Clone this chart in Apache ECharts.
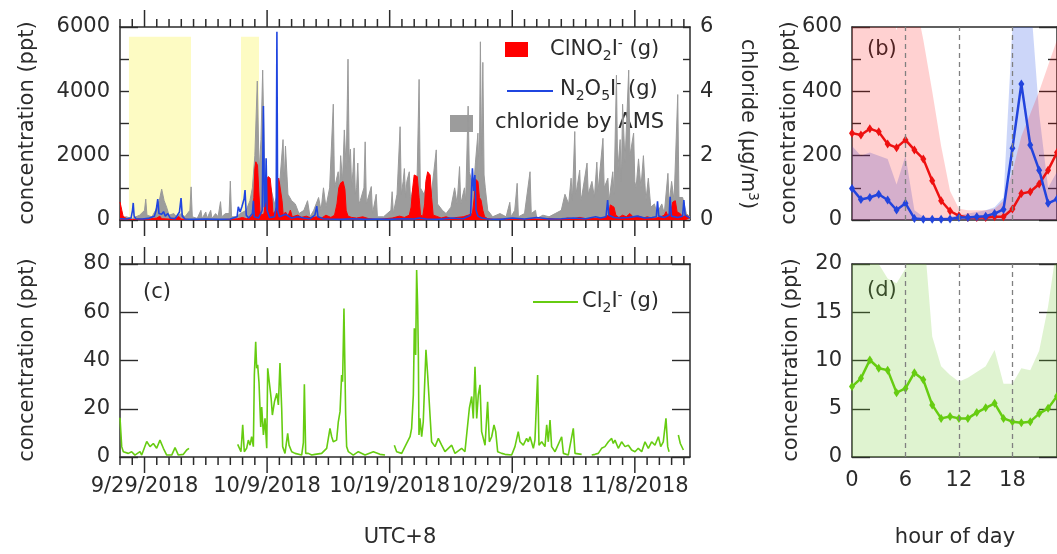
<!DOCTYPE html>
<html>
<head>
<meta charset="utf-8">
<script src="https://cdn.jsdelivr.net/npm/echarts@6/dist/echarts.min.js"></script>
<style>
  html, body { margin: 0; padding: 0; background: #ffffff; }
  #chart { width: 1057px; height: 554px; }
</style>
</head>
<body>
<div id="chart"></div>
<script>
// Time is counted in days after 2018-09-19 00:00 (UTC+8).
const dateTicks = [10, 20, 30, 40, 50];
const dateLabels = ['9/29/2018', '10/9/2018', '10/19/2018', '10/29/2018', '11/8/2018'];
const dayTicks = [8, 9, 10, 11, 12, 13, 14, 15, 16, 17, 18, 19, 20, 21, 22, 23, 24, 25, 26, 27, 28, 29, 30,
  31, 32, 33, 34, 35, 36, 37, 38, 39, 40, 41, 42, 43, 44, 45, 46, 47, 48, 49, 50, 51, 52, 53, 54];
const timeMin = 8, timeMax = 54.5;

// highlighted periods (start day, end day) and their top (ppt)
const shadedPeriods = [[8.73, 13.79], [17.87, 19.34]];
const shadeTop = 5700;

// particulate chloride by AMS, µg/m3
const chlorideAMS = [
  [8.0, 0.05], [8.5, 0.1], [9.0, 0.05], [9.6, 0.15], [10.0, 0.3], [10.1, 0.65], [10.2, 0.15], [10.6, 0.1],
  [10.9, 0.3], [11.2, 0.6], [11.4, 0.96], [11.6, 0.6], [11.8, 0.4], [12.0, 0.15], [12.4, 0.2], [12.6, 0.1],
  [13.0, 0.2], [13.3, 0.1], [13.7, 0.3], [13.8, 1.03], [13.9, 0.1], [14.3, 0.05], [14.6, 0.3], [14.7, 0.05],
  [15.0, 0.25], [15.1, 0.05], [15.4, 0.3], [15.5, 0.05], [15.8, 0.2], [16.0, 0.1], [16.2, 0.57], [16.3, 0.1],
  [16.6, 0.2], [16.9, 0.2], [17.0, 1.21], [17.1, 0.1], [17.5, 0.1], [17.8, 0.2], [18.3, 0.3], [18.6, 0.6],
  [18.8, 1.0], [19.0, 2.0], [19.2, 4.32], [19.35, 1.5], [19.5, 2.5], [19.64, 4.66], [19.8, 1.5], [20.0, 0.6],
  [20.3, 1.0], [20.6, 0.5], [21.0, 1.0], [21.3, 2.5], [21.4, 1.2], [21.5, 2.3], [21.7, 0.8], [22.0, 0.6],
  [22.3, 0.5], [22.6, 0.2], [23.0, 0.3], [23.3, 0.6], [23.5, 0.1], [23.8, 0.3], [24.2, 0.7], [24.4, 0.3],
  [24.6, 1.0], [24.8, 0.4], [25.1, 1.0], [25.4, 3.6], [25.5, 1.0], [25.8, 1.5], [25.9, 0.9], [26.0, 2.0],
  [26.15, 1.2], [26.3, 2.8], [26.45, 1.6], [26.6, 5.0], [26.7, 1.8], [26.8, 2.2], [26.9, 1.0], [27.0, 1.5],
  [27.1, 2.24], [27.2, 0.8], [27.3, 1.0], [27.4, 1.77], [27.5, 0.5], [27.6, 0.6], [27.9, 1.0],
  [28.0, 2.43], [28.1, 0.5], [28.5, 1.04], [28.6, 0.2], [28.9, 0.8], [29.0, 0.1], [29.5, 0.1], [30.1, 0.3],
  [30.2, 0.88], [30.3, 0.2], [30.6, 0.8], [30.85, 2.9], [30.95, 0.8], [31.1, 1.2], [31.2, 1.6], [31.3, 0.7],
  [31.4, 1.2], [31.6, 1.5], [31.7, 0.6], [31.8, 0.8], [32.1, 1.3], [32.2, 0.6], [32.4, 4.37], [32.5, 1.0],
  [32.8, 0.8], [33.1, 1.2], [33.4, 0.8], [33.8, 2.18], [33.9, 0.5], [34.3, 0.3], [34.6, 0.2], [35.0, 0.4],
  [35.3, 1.0], [35.5, 0.5], [35.7, 1.66], [35.8, 0.5], [36.1, 1.0], [36.2, 0.6], [36.4, 3.54], [36.5, 1.5],
  [36.7, 1.2], [36.8, 0.7], [37.0, 1.8], [37.2, 2.7], [37.3, 1.2], [37.4, 5.54], [37.5, 2.0], [37.6, 4.9],
  [37.7, 1.4], [37.8, 1.0], [38.0, 0.3], [38.4, 0.1], [39.0, 0.2], [39.5, 0.1], [39.8, 0.55], [39.9, 0.1],
  [40.2, 0.3], [40.4, 1.14], [40.5, 0.1], [41.0, 0.2], [41.45, 1.5], [41.55, 0.2], [41.9, 0.3], [42.0, 0.05],
  [42.5, 0.15], [43.0, 0.1], [43.5, 0.2], [44.0, 0.3], [44.3, 0.8], [44.6, 0.5], [44.8, 1.3], [44.9, 0.6],
  [45.1, 2.75], [45.2, 0.8], [45.5, 1.55], [45.6, 0.6], [45.7, 0.8], [46.1, 1.77], [46.2, 0.8], [46.5, 1.2],
  [46.7, 0.7], [46.9, 1.8], [47.0, 0.9], [47.4, 2.54], [47.5, 1.0], [47.8, 1.3], [47.9, 0.6], [48.2, 1.5],
  [48.3, 0.8], [48.5, 4.5], [48.6, 1.5], [48.8, 2.5], [48.9, 1.2], [49.0, 3.6], [49.2, 1.8], [49.5, 4.66],
  [49.6, 2.0], [49.9, 2.7], [50.0, 1.2], [50.1, 1.0], [50.3, 1.9], [50.5, 1.0], [50.7, 2.0], [50.9, 0.6],
  [51.1, 1.3], [51.3, 0.4], [51.6, 0.5], [51.8, 0.2], [52.2, 0.5], [52.4, 0.2], [52.7, 1.45], [52.8, 0.5],
  [53.0, 1.2], [53.2, 0.6], [53.5, 3.9], [53.6, 0.7], [53.9, 0.7], [54.2, 0.2], [54.5, 0.1]
];

// ClNO2 (ppt)
const clno2 = [
  [8.0, 560], [8.08, 520], [8.15, 300], [8.25, 120], [8.4, 60], [8.6, 20], [9.0, 10], [9.5, 30], [10.0, 20],
  [10.5, 40], [11.0, 60], [11.25, 120], [11.4, 40], [12.0, 30], [12.6, 60], [12.8, 110], [13.0, 30], [13.5, 20],
  [14.0, 10], [15.0, 10], [16.0, 15], [17.0, 20], [17.6, 40], [18.0, 80], [18.3, 40], [18.6, 60], [18.8, 150],
  [18.92, 700], [19.0, 1600], [19.08, 1810], [19.22, 1700], [19.32, 900], [19.42, 250], [19.55, 150],
  [19.75, 200], [19.88, 700], [19.98, 1250], [20.08, 1350], [20.25, 1300], [20.38, 800], [20.48, 200],
  [20.62, 150], [20.75, 300], [20.85, 1200], [20.95, 1300], [21.1, 1250], [21.22, 600], [21.32, 150],
  [21.5, 250], [21.7, 120], [21.9, 310], [22.05, 100], [22.5, 150], [22.8, 80], [23.2, 120], [23.6, 60],
  [24.0, 100], [24.4, 50], [24.8, 150], [25.2, 80], [25.5, 150], [25.7, 500], [25.85, 1000], [26.0, 1150],
  [26.2, 1200], [26.35, 950], [26.45, 300], [26.6, 120], [26.9, 80], [27.3, 60], [27.8, 100], [28.3, 40],
  [29.0, 20], [29.6, 40], [30.2, 60], [30.8, 120], [31.2, 80], [31.6, 150], [31.75, 400], [31.88, 1000],
  [32.0, 1400], [32.25, 1350], [32.4, 700], [32.52, 150], [32.7, 120], [32.85, 500], [32.95, 1200],
  [33.1, 1500], [33.3, 1400], [33.42, 700], [33.55, 150], [33.8, 120], [34.2, 60], [34.6, 100], [35.0, 50],
  [35.5, 80], [36.0, 100], [36.4, 150], [36.75, 200], [36.9, 700], [37.0, 1270], [37.2, 1200], [37.32, 700],
  [37.45, 620], [37.6, 300], [37.75, 100], [38.0, 40], [38.5, 20], [39.0, 30], [39.5, 10], [40.0, 20],
  [40.5, 30], [41.0, 20], [41.5, 40], [42.0, 30], [42.5, 20], [43.0, 50], [43.5, 30], [44.0, 20], [44.5, 60],
  [45.0, 40], [45.5, 80], [46.0, 40], [46.5, 60], [47.0, 50], [47.5, 80], [47.85, 150], [48.0, 470],
  [48.15, 520], [48.3, 400], [48.45, 150], [48.7, 80], [49.0, 150], [49.3, 100], [49.6, 200], [49.9, 80],
  [50.3, 120], [50.7, 60], [51.0, 100], [51.5, 50], [52.0, 80], [52.4, 150], [52.55, 260], [52.7, 120],
  [52.95, 300], [53.1, 560], [53.3, 600], [53.45, 250], [53.7, 200], [53.9, 100], [54.2, 150], [54.5, 60]
];

// N2O5 (ppt)
const n2o5 = [
  [8.0, 40], [8.5, 30], [8.9, 60], [9.02, 300], [9.08, 530], [9.15, 120], [9.3, 40], [9.8, 30], [10.3, 50],
  [10.8, 120], [10.95, 300], [11.08, 650], [11.18, 200], [11.4, 180], [11.55, 260], [11.7, 120], [11.9, 200],
  [12.1, 60], [12.5, 40], [12.85, 250], [12.98, 680], [13.08, 120], [13.3, 30], [14.0, 20], [15.0, 30],
  [16.0, 20], [17.0, 30], [17.55, 100], [17.65, 410], [17.8, 250], [17.95, 420], [18.12, 650], [18.2, 930],
  [18.3, 150], [18.5, 60], [18.8, 200], [18.88, 600], [18.95, 100], [19.3, 60], [19.6, 300], [19.7, 3540],
  [19.78, 400], [19.86, 600], [19.92, 1920], [20.0, 300], [20.2, 80], [20.6, 100], [20.74, 400], [20.8, 5850],
  [20.86, 300], [21.0, 100], [21.5, 180], [22.0, 60], [22.5, 100], [23.0, 60], [23.5, 40], [23.9, 150],
  [24.05, 430], [24.15, 100], [24.6, 40], [25.0, 30], [26.0, 20], [27.0, 40], [28.0, 20], [29.0, 30],
  [30.0, 20], [31.0, 40], [32.0, 30], [32.4, 60], [33.0, 30], [34.0, 20], [35.0, 60], [36.0, 40], [36.6, 150],
  [36.75, 1610], [36.85, 900], [36.95, 1400], [37.05, 300], [37.2, 120], [37.5, 60], [38.0, 30], [39.0, 20],
  [40.0, 60], [41.0, 30], [42.0, 80], [43.0, 30], [44.0, 40], [45.0, 60], [46.0, 40], [46.8, 100], [47.2, 60],
  [47.65, 100], [47.78, 620], [47.88, 150], [48.3, 80], [48.8, 60], [49.5, 80], [50.2, 120], [50.8, 60],
  [51.4, 80], [51.75, 100], [51.85, 580], [51.95, 120], [52.4, 80], [52.8, 150], [52.88, 720], [52.98, 120],
  [53.5, 80], [53.9, 120], [54.0, 620], [54.1, 150], [54.5, 60]
];

// Cl2 (ppt); null marks missing data
const cl2 = [
  [8.0, 16.3], [8.14, 4.3], [8.27, 2.2], [8.68, 1.5], [8.95, 2.2], [9.22, 0.8], [9.63, 2.2], [9.77, 0.8],
  [10.18, 6.4], [10.45, 4.3], [10.72, 5.6], [10.99, 3.6], [11.26, 7.0], [11.54, 3.6], [11.81, 0.8],
  [12.22, 0.8], [12.49, 3.9], [12.76, 0.8], [13.17, 1.1], [13.44, 2.9], [13.63, 3.6], [15.5, null],
  [17.6, 5.2], [17.87, 2.2], [18.01, 13.3], [18.14, 2.2], [18.33, 3.6], [18.47, 7.0], [18.61, 4.9],
  [18.74, 8.4], [18.88, 4.3], [18.96, 34.0], [19.07, 47.8], [19.15, 36.8], [19.23, 38.2], [19.34, 30.8],
  [19.48, 12.4], [19.56, 20.7], [19.7, 9.1], [19.83, 16.0], [19.97, 3.6], [20.05, 36.8], [20.19, 36.1],
  [20.33, 24.3], [20.43, 17.4], [20.6, 22.9], [20.79, 26.4], [20.92, 21.6], [21.05, 38.9], [21.19, 20.2],
  [21.27, 4.3], [21.46, 1.5], [21.68, 9.8], [21.79, 4.9], [22.01, 2.2], [22.28, 1.5], [22.82, 0.8],
  [22.96, 6.0], [23.04, 30.1], [23.15, 1.5], [23.36, 1.5], [23.64, 0.8], [23.91, 1.1], [24.45, 1.5],
  [24.86, 3.6], [25.13, 11.9], [25.27, 8.4], [25.4, 6.3], [25.67, 7.0], [25.81, 14.6], [25.95, 18.8],
  [26.08, 34.0], [26.16, 31.2], [26.27, 61.6], [26.41, 17.4], [26.49, 4.3], [26.63, 2.2], [27.03, 0.8],
  [27.44, 2.2], [27.99, 0.8], [28.67, 2.2], [29.21, 1.1], [29.62, 0.8], [30.0, null], [30.38, 4.9],
  [30.57, 2.2], [30.98, 1.5], [31.25, 4.3], [31.66, 8.4], [31.79, 11.9], [31.93, 25.7], [32.01, 53.4],
  [32.12, 42.3], [32.2, 77.5], [32.28, 63.0], [32.34, 42.3], [32.39, 9.1], [32.47, 16.0], [32.61, 8.4],
  [32.74, 14.6], [32.83, 27.1], [32.96, 44.4], [33.1, 34.0], [33.29, 17.4], [33.42, 6.3], [33.7, 4.3],
  [33.97, 7.7], [34.24, 4.9], [34.51, 2.2], [35.06, 4.9], [35.33, 1.5], [35.87, 3.6], [36.14, 2.2],
  [36.5, 20.2], [36.69, 25.1], [36.82, 16.0], [36.96, 37.4], [37.1, 16.0], [37.23, 25.7], [37.37, 29.9],
  [37.5, 10.5], [37.78, 4.9], [37.99, 22.9], [38.13, 6.3], [38.32, 8.4], [38.51, 13.3], [38.65, 10.5],
  [38.81, 2.2], [39.14, 1.5], [39.41, 1.1], [39.95, 0.8], [40.22, 4.3], [40.49, 10.5], [40.63, 6.3],
  [40.9, 4.9], [41.17, 7.7], [41.31, 6.3], [41.45, 8.4], [41.72, 3.6], [41.85, 7.0], [42.07, 34.0],
  [42.18, 4.9], [42.4, 6.3], [42.67, 4.3], [42.81, 13.3], [42.94, 6.3], [43.08, 15.3], [43.21, 4.3],
  [43.49, 2.2], [44.03, 8.4], [44.17, 1.5], [44.57, 0.8], [44.98, 11.9], [45.12, 1.5], [45.66, 1.1],
  [46.0, null], [46.48, 0.8], [46.75, 1.1], [47.02, 1.5], [47.29, 3.6], [47.56, 4.3], [47.84, 6.3],
  [48.11, 7.7], [48.24, 5.6], [48.38, 7.0], [48.65, 3.6], [48.92, 6.3], [49.2, 4.3], [49.47, 4.9],
  [49.74, 2.9], [50.01, 2.2], [50.28, 3.6], [50.56, 2.2], [50.83, 6.3], [51.1, 3.6], [51.37, 6.3],
  [51.64, 4.9], [51.92, 8.4], [52.11, 4.3], [52.32, 6.3], [52.54, 16.0], [52.68, 4.3], [52.79, 2.2],
  [53.2, null], [53.55, 9.1], [53.71, 5.6], [53.96, 2.9]
];

// Diurnal profiles, hour of day 0..23
const hours = [0, 1, 2, 3, 4, 5, 6, 7, 8, 9, 10, 11, 12, 13, 14, 15, 16, 17, 18, 19, 20, 21, 22, 23];
const clno2Diurnal = [270, 264, 284, 274, 236, 225, 249, 218, 190, 122, 60, 28, 13, 8, 8, 8, 10, 10, 34, 82, 88, 112, 155, 210];
const clno2Upper = [700, 700, 700, 700, 700, 590, 700, 700, 560, 400, 230, 90, 35, 30, 30, 30, 35, 60, 150, 260, 330, 400, 480, 560];
const n2o5Diurnal = [98, 64, 70, 80, 62, 31, 52, 5, 2, 2, 2, 3, 8, 8, 10, 12, 20, 33, 223, 423, 233, 155, 52, 65];
const n2o5Upper = [230, 200, 210, 200, 190, 110, 200, 30, 10, 8, 8, 10, 15, 20, 25, 30, 40, 70, 600, 700, 700, 330, 100, 150];
const cl2Diurnal = [7.3, 8.15, 10.05, 9.2, 9.0, 6.67, 7.1, 8.74, 8.0, 5.4, 4.0, 4.2, 4.0, 4.0, 4.6, 5.1, 5.56, 4.0, 3.66, 3.56, 3.66, 4.5, 5.04, 6.3];
const cl2Upper = [25, 25, 25, 20, 18.5, 18, 19.5, 25, 24, 12.5, 9.4, 8.5, 7.8, 8.2, 8.8, 9.4, 11.1, 7.6, 7.6, 9.2, 9.0, 11.0, 15.6, 22];

// ---------------------------------------------------------------------
const FONT = 'DejaVu Sans';
const INK = '#2b2b2b';
const FS = 21;
const axisLine = { show: true, onZero: false, lineStyle: { color: INK, width: 1.5 } };
const tickStyle = { color: INK, width: 1.4 };
const labelStyle = { fontFamily: FONT, fontSize: FS, color: INK };
const plain = v => String(v);
const paired = (xs, ys) => xs.map((x, i) => [x, ys[i]]);

const panelA = { left: 120, top: 27, width: 570, height: 193 };
const panelC = { left: 120, top: 264, width: 570, height: 193 };
const panelB = { left: 852, top: 27, width: 207, height: 193 };
const panelD = { left: 852, top: 264, width: 207, height: 193 };

// time axes carry the frame lines and date labels; their tick marks are drawn by timeTicks()
function timeAxis(gridIndex, position, labels) {
  const ax = {
    type: 'value', gridIndex, position, min: timeMin, max: timeMax, splitNumber: 5,
    splitLine: { show: false }, axisLine, axisTick: { show: false }, axisLabel: { show: false }
  };
  if (labels) {
    ax.axisLabel = Object.assign({
      show: true, margin: 19, showMinLabel: false, showMaxLabel: false,
      formatter: v => { const i = dateTicks.indexOf(v); return i < 0 ? '' : dateLabels[i]; }
    }, labelStyle);
  }
  return ax;
}

// daily tick marks (longer every ten days) below and above a time-series panel
function timeTicks(xAxisIndex, yAxisIndex, yMax) {
  return {
    type: 'custom', xAxisIndex, yAxisIndex, silent: true, clip: false, z: 5,
    data: dayTicks.map(d => [d, 0]),
    encode: { x: 0, y: 1 },
    renderItem: (params, api) => {
      const v = api.value(0);
      const major = dateTicks.indexOf(v) >= 0;
      const lo = api.coord([v, 0]);
      const hi = api.coord([v, yMax]);
      const st = { stroke: INK, lineWidth: 1.5 };
      return {
        type: 'group',
        children: [
          { type: 'line', shape: { x1: lo[0], y1: lo[1], x2: lo[0], y2: lo[1] + (major ? 16 : 8) }, style: st },
          { type: 'line', shape: { x1: hi[0], y1: hi[1], x2: hi[0], y2: hi[1] - (major ? 17 : 8) }, style: st }
        ]
      };
    }
  };
}

function hourAxis(gridIndex, position, labels) {
  return {
    type: 'value', gridIndex, position, min: 0, max: 23, interval: 6,
    splitLine: { show: false }, axisLine, axisTick: { show: false },
    axisLabel: labels ? Object.assign({ show: true, margin: 13, showMaxLabel: false }, labelStyle) : { show: false }
  };
}

function yAxis(gridIndex, position, max, interval, opts) {
  const o = opts || {};
  return {
    type: 'value', gridIndex, position, min: 0, max, interval,
    axisLine, splitLine: { show: false }, minorSplitLine: { show: false },
    axisTick: { show: true, inside: true, length: o.tick || 18, lineStyle: tickStyle },
    minorTick: o.minor ? { show: true, splitNumber: 2, length: o.minorLen || 9, lineStyle: tickStyle } : { show: false },
    axisLabel: o.labels ? Object.assign({ show: true, margin: 10, formatter: plain }, labelStyle) : { show: false }
  };
}

const dashedHours = {
  silent: true, symbol: 'none', label: { show: false },
  lineStyle: { color: '#808080', type: [5, 4], width: 1.3 },
  data: [{ xAxis: 6 }, { xAxis: 12 }, { xAxis: 18 }]
};

// rich text styles for chemical formulas
const rich = {
  t: { fontFamily: FONT, fontSize: FS, fill: INK, color: INK, lineHeight: 26 },
  s: { fontFamily: FONT, fontSize: 14, fill: INK, color: INK, lineHeight: 12, verticalAlign: 'bottom' },
  p: { fontFamily: FONT, fontSize: 14, fill: INK, color: INK, lineHeight: 12, verticalAlign: 'top' }
};
function txt(x, y, text, opts) {
  return Object.assign({
    type: 'text', x, y, silent: true,
    style: {
      text, rich, fontFamily: FONT, fontSize: FS, fill: INK,
      align: 'left', textAlign: 'left', verticalAlign: 'middle', textVerticalAlign: 'middle'
    }
  }, opts || {});
}
function centered(x, y, text, rotation) {
  const el = txt(x, y, text, { rotation: rotation || 0 });
  el.style.align = 'center';
  el.style.textAlign = 'center';
  return el;
}

const option = {
  animation: false,
  backgroundColor: '#ffffff',
  grid: [panelA, panelC, panelB, panelD],
  xAxis: [
    timeAxis(0, 'bottom', false),   // 0
    timeAxis(0, 'top', false),      // 1
    timeAxis(1, 'bottom', true),    // 2
    timeAxis(1, 'top', false),      // 3
    hourAxis(2, 'bottom', false),   // 4
    hourAxis(2, 'top', false),      // 5
    hourAxis(3, 'bottom', true),    // 6
    hourAxis(3, 'top', false)       // 7
  ],
  yAxis: [
    yAxis(0, 'left', 6000, 2000, { labels: true, minor: true }),                  // 0
    yAxis(0, 'right', 6, 2, { labels: true, minor: true, tick: 7, minorLen: 7 }), // 1
    yAxis(1, 'left', 80, 20, { labels: true }),                                    // 2
    yAxis(1, 'right', 80, 20, {}),                                                 // 3
    yAxis(2, 'left', 600, 200, { labels: true, minor: true }),                     // 4
    yAxis(2, 'right', 600, 200, { minor: true }),                                  // 5
    yAxis(3, 'left', 20, 5, { labels: true }),                                     // 6
    yAxis(3, 'right', 20, 5, {})                                                   // 7
  ],
  series: [
    timeTicks(0, 0, 6000),
    timeTicks(2, 2, 80),
    {
      name: 'shading', type: 'line', xAxisIndex: 0, yAxisIndex: 0, data: [], z: 1,
      markArea: {
        silent: true, itemStyle: { color: '#fdfbc3' },
        data: shadedPeriods.map(p => [{ xAxis: p[0], yAxis: 0 }, { xAxis: p[1], yAxis: shadeTop }])
      }
    },
    {
      name: 'chloride by AMS', type: 'line', xAxisIndex: 0, yAxisIndex: 1, data: chlorideAMS,
      showSymbol: false, symbol: 'none', z: 2,
      lineStyle: { color: '#9a9a9a', width: 1 }, areaStyle: { color: '#9c9c9c', opacity: 1 }
    },
    {
      name: 'ClNO2', type: 'line', xAxisIndex: 0, yAxisIndex: 0, data: clno2,
      showSymbol: false, symbol: 'none', z: 3,
      lineStyle: { color: '#ff0000', width: 1 }, areaStyle: { color: '#ff0000', opacity: 1 }
    },
    {
      name: 'N2O5', type: 'line', xAxisIndex: 0, yAxisIndex: 0, data: n2o5,
      showSymbol: false, symbol: 'none', z: 4,
      lineStyle: { color: '#1f45e0', width: 1.6 }
    },
    {
      name: 'Cl2', type: 'line', xAxisIndex: 2, yAxisIndex: 2, data: cl2,
      showSymbol: false, symbol: 'none', connectNulls: false, z: 3,
      lineStyle: { color: '#66cc11', width: 1.6 }
    },
    {
      name: 'N2O5 range', type: 'line', xAxisIndex: 4, yAxisIndex: 4, data: paired(hours, n2o5Upper),
      showSymbol: false, symbol: 'none', z: 1,
      lineStyle: { opacity: 0, width: 0 }, areaStyle: { color: 'rgba(40,85,230,0.24)', opacity: 1 }
    },
    {
      name: 'ClNO2 range', type: 'line', xAxisIndex: 4, yAxisIndex: 4, data: paired(hours, clno2Upper),
      showSymbol: false, symbol: 'none', z: 1,
      lineStyle: { opacity: 0, width: 0 }, areaStyle: { color: 'rgba(255,0,0,0.18)', opacity: 1 }
    },
    {
      name: 'ClNO2 diurnal', type: 'line', xAxisIndex: 4, yAxisIndex: 4, data: paired(hours, clno2Diurnal),
      symbol: 'diamond', symbolSize: [6, 9], z: 3,
      itemStyle: { color: '#ee1111' }, lineStyle: { color: '#ee1111', width: 2.5 },
      markLine: dashedHours
    },
    {
      name: 'N2O5 diurnal', type: 'line', xAxisIndex: 4, yAxisIndex: 4, data: paired(hours, n2o5Diurnal),
      symbol: 'diamond', symbolSize: [6, 9], z: 4,
      itemStyle: { color: '#2244dd' }, lineStyle: { color: '#2244dd', width: 2.5 }
    },
    {
      name: 'Cl2 range', type: 'line', xAxisIndex: 6, yAxisIndex: 6, data: paired(hours, cl2Upper),
      showSymbol: false, symbol: 'none', z: 1,
      lineStyle: { opacity: 0, width: 0 }, areaStyle: { color: 'rgba(110,200,40,0.22)', opacity: 1 }
    },
    {
      name: 'Cl2 diurnal', type: 'line', xAxisIndex: 6, yAxisIndex: 6, data: paired(hours, cl2Diurnal),
      symbol: 'diamond', symbolSize: [6, 9], z: 3,
      itemStyle: { color: '#66cc11' }, lineStyle: { color: '#66cc11', width: 2.5 },
      markLine: dashedHours
    }
  ],
  graphic: [
    // panel tags
    txt(145, 53, '(a)'), txt(867, 50, '(b)'), txt(143, 293, '(c)'), txt(867, 291, '(d)'),
    // legend of (a)
    { type: 'rect', silent: true, shape: { x: 505, y: 42, width: 23, height: 15 }, style: { fill: '#ff0000' } },
    txt(550, 50, '{t|ClNO}{s|2}{t|I}{p|-}{t| (g)}'),
    { type: 'line', silent: true, shape: { x1: 507, y1: 91, x2: 553, y2: 91 }, style: { stroke: '#1f45e0', lineWidth: 2 } },
    txt(560, 90, '{t|N}{s|2}{t|O}{s|5}{t|I}{p|-}{t| (g)}'),
    { type: 'rect', silent: true, shape: { x: 450, y: 115, width: 23, height: 17 }, style: { fill: '#9c9c9c' } },
    txt(495, 123, 'chloride by AMS'),
    // legend of (c)
    { type: 'line', silent: true, shape: { x1: 533, y1: 302, x2: 578, y2: 302 }, style: { stroke: '#66cc11', lineWidth: 2 } },
    txt(582, 302, '{t|Cl}{s|2}{t|I}{p|-}{t| (g)}'),
    // axis titles
    centered(28, 123, 'concentration (ppt)', Math.PI / 2),
    centered(28, 360, 'concentration (ppt)', Math.PI / 2),
    centered(790, 123, 'concentration (ppt)', Math.PI / 2),
    centered(792, 360, 'concentration (ppt)', Math.PI / 2),
    centered(747, 124, '{t|chloride (µg/m}{p|3}{t|)}', -Math.PI / 2),
    centered(400, 538, 'UTC+8'),
    centered(955, 538, 'hour of day')
  ]
};

const chart = echarts.init(document.getElementById('chart'), null, { renderer: 'canvas' });
chart.setOption(option);
</script>
</body>
</html>
